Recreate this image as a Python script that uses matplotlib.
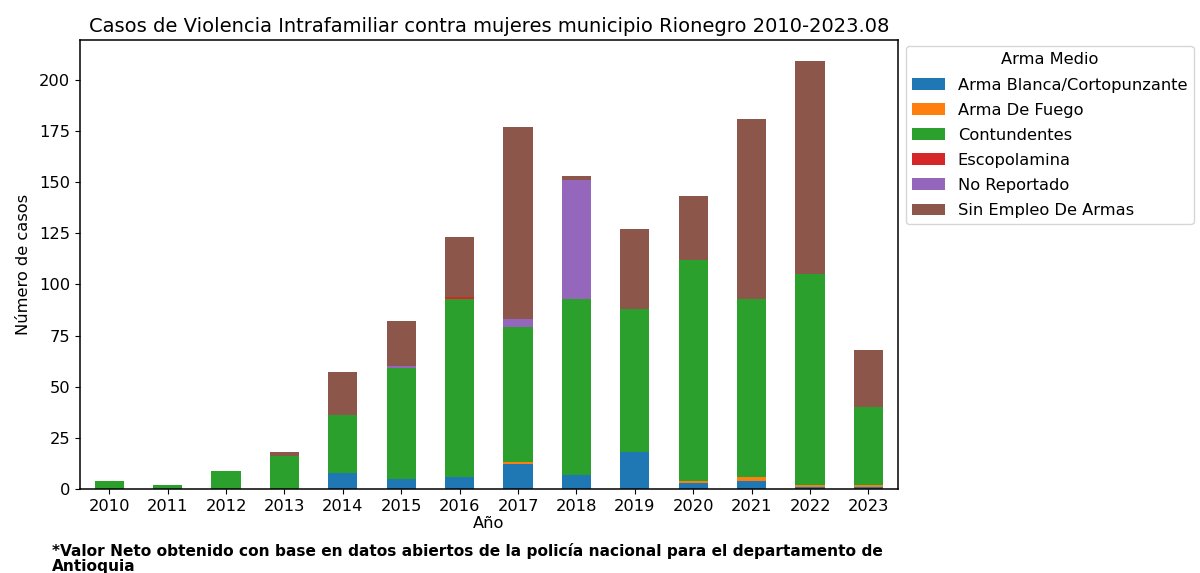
import numpy as np
import pandas as pd
import matplotlib
matplotlib.use("Agg")
import matplotlib.pyplot as plt

anios = [2010, 2011, 2012, 2013, 2014, 2015, 2016, 2017, 2018, 2019, 2020, 2021, 2022, 2023]

arma_blanca = [0, 0, 0, 0, 8, 5, 6, 12, 7, 18, 3, 4, 1, 1]
arma_fuego = [0, 0, 0, 0, 0, 0, 0, 1, 0, 0, 1, 2, 1, 1]
contundentes = [4, 2, 9, 16, 28, 54, 87, 66, 86, 70, 108, 87, 103, 38]
escopolamina = [0, 0, 0, 0, 0, 0, 1, 0, 0, 0, 0, 0, 0, 0]
no_reportado = [0, 0, 0, 0, 0, 1, 0, 4, 58, 0, 0, 0, 0, 0]
sin_armas = [0, 0, 0, 2, 21, 22, 29, 94, 2, 39, 31, 88, 104, 28]

df = pd.DataFrame({
    "Arma Blanca/Cortopunzante": arma_blanca,
    "Arma De Fuego": arma_fuego,
    "Contundentes": contundentes,
    "Escopolamina": escopolamina,
    "No Reportado": no_reportado,
    "Sin Empleo De Armas": sin_armas,
}, index=anios)

plt.rcParams["font.size"] = 11.7
plt.rcParams["axes.linewidth"] = 1.1

fig = plt.figure(figsize=(12, 5.73), dpi=100)
ax = fig.add_axes([0.0667, 0.1466, 0.6813, 0.7834])
df.plot(kind="bar", stacked=True, ax=ax, rot=0)

ax.set_title("Casos de Violencia Intrafamiliar contra mujeres municipio Rionegro 2010-2023.08", fontsize=14)
ax.set_xlabel("Año", labelpad=2)
ax.set_ylabel("Número de casos", labelpad=6)
ax.legend(title="Arma Medio", bbox_to_anchor=(1.0, 1.005), loc="upper left", labelspacing=0.62)

fig.text(0.043, 0.053, "*Valor Neto obtenido con base en datos abiertos de la policía nacional para el departamento de\nAntioquia",
         fontsize=11.1, fontweight="bold", va="top", ha="left", linespacing=1.05)

plt.savefig("out.png")
